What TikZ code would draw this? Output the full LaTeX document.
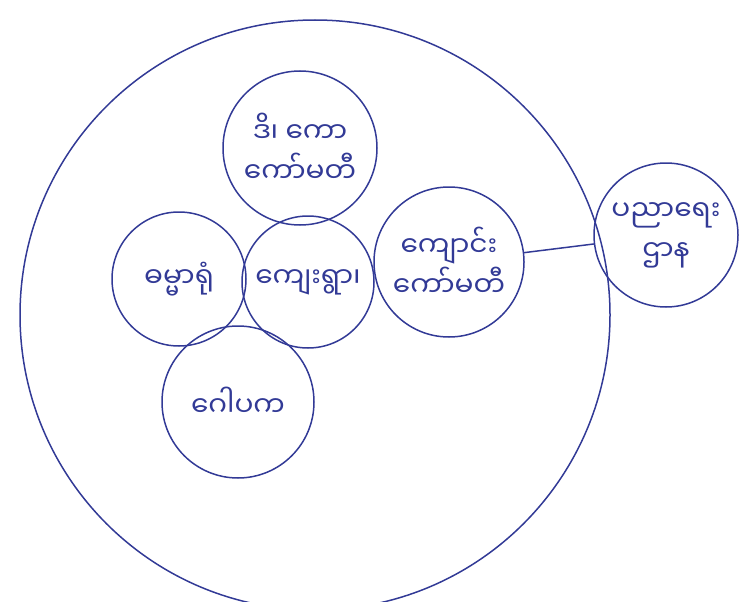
\documentclass[tikz,border=0pt]{standalone}
\usepackage{fontspec}
\newfontfamily\mmfont[Script=Myanmar]{Noto Sans Myanmar UI}
\definecolor{ink}{RGB}{50,58,150}

\begin{document}
\begin{tikzpicture}[
            x=1pt, y=-1pt,
            font=\mmfont\fontsize{28}{40}\selectfont,
            pen/.style={draw=ink, line width=1.5pt},
            blob/.style={circle, pen, text=ink, align=center, inner sep=0pt}
        ]
        \useasboundingbox (0,0) rectangle (744,602);

        % The village area
        \draw[pen] (315,315) circle[radius=295];

        % Inner groups
        \node[blob, minimum size=154pt] (cmte) at (300,148) {ဒိ၊ ကော \\ ကော်မတီ}; \node[blob, minimum size=134pt] (hall) at (179,279) {ဓမ္မာရုံ}; \node[blob, minimum size=132pt] (village) at (308,282) {ကျေးရွာ၊}; \node[blob, minimum size=150pt] (school) at (449,262) {ကျောင်း \\ ကော်မတီ}; \node[blob, minimum size=152pt] (trustee) at (238,402) {ဂေါပက};

        % Outside group
        \node[blob, minimum size=144pt] (edu) at (666,235) {ပညာရေး \\ ဌာန};
        \draw[pen] (school) -- (edu);

    \end{tikzpicture}
\end{document}
